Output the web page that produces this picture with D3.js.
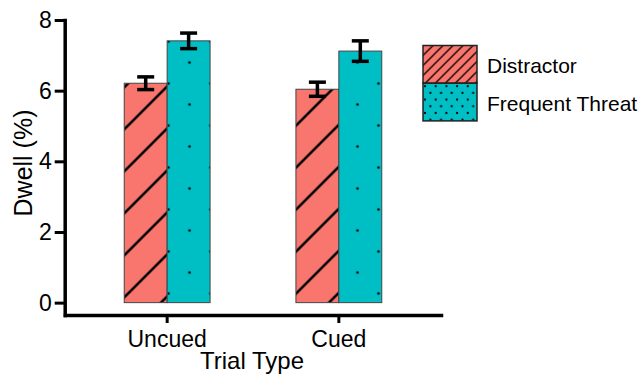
<!DOCTYPE html>
<html>
<head>
<meta charset="utf-8">
<script src="https://cdn.jsdelivr.net/npm/d3@7"></script>
<style>
  body { margin: 0; background: #fff; }
  text { font-family: "Liberation Sans", Arial, sans-serif; }
</style>
</head>
<body>
<div id="chart"></div>
<script>
// data
let trial_types = ["Uncued", "Cued"];
let series = ["Distractor", "Frequent Threat"];
let distractor_means = [6.21, 6.04];
let distractor_se = [0.18, 0.20];
let threat_means = [7.41, 7.12];
let threat_se = [0.22, 0.29];
let y_ticks = [0, 2, 4, 6, 8];

let width = 638, height = 378;

let svg = d3.select("#chart")
    .append("svg")
    .attr("width", width)
    .attr("height", height);

let defs = svg.append("defs");

// bar hatch (wide spacing)
let hatch = defs.append("pattern")
    .attr("id", "hatch_bar")
    .attr("patternUnits", "userSpaceOnUse")
    .attr("width", 42).attr("height", 42)
    .attr("patternTransform", "translate(1.6,0)");
hatch.append("rect").attr("width", 42).attr("height", 42).attr("fill", "#F8766D");
hatch.append("path")
    .attr("d", "M-2,44L44,-2M-2,2L2,-2M40,44L44,40")
    .attr("stroke", "#000").attr("stroke-width", 2.6);

// bar dots (sparse)
let dots = defs.append("pattern")
    .attr("id", "dots_bar")
    .attr("patternUnits", "userSpaceOnUse")
    .attr("width", 42).attr("height", 42)
    .attr("patternTransform", "translate(0.5,-0.5)");
dots.append("rect").attr("width", 42).attr("height", 42).attr("fill", "#00BFC4");
[[0,0],[42,0],[0,42],[42,42],[21,21]].forEach(function(p) {
    dots.append("circle").attr("cx", p[0]).attr("cy", p[1]).attr("r", 1.35).attr("fill", "#000");
});

// legend hatch (dense)
let hatch_l = defs.append("pattern")
    .attr("id", "hatch_leg")
    .attr("patternUnits", "userSpaceOnUse")
    .attr("width", 10).attr("height", 10);
hatch_l.append("rect").attr("width", 10).attr("height", 10).attr("fill", "#F8766D");
hatch_l.append("path")
    .attr("d", "M-1,11L11,-1M-1,1L1,-1M9,11L11,9")
    .attr("stroke", "#000").attr("stroke-width", 1.3);

// legend dots (dense)
let dots_l = defs.append("pattern")
    .attr("id", "dots_leg")
    .attr("patternUnits", "userSpaceOnUse")
    .attr("width", 10.7).attr("height", 13.4)
    .attr("patternTransform", "translate(2,3)");
dots_l.append("rect").attr("width", 10.7).attr("height", 13.4).attr("fill", "#00BFC4");
[[0,0],[10.7,0],[0,13.4],[10.7,13.4],[5.35,6.7]].forEach(function(p) {
    dots_l.append("circle").attr("cx", p[0]).attr("cy", p[1]).attr("r", 1.1).attr("fill", "#000");
});

// scales
let y = d3.scaleLinear()
    .domain([-0.35, 8])
    .range([315, 20]);

let x0 = d3.scaleBand()
    .domain(trial_types)
    .range([65, 441])
    .paddingInner(0.5)
    .paddingOuter(0.345);

let x1 = d3.scaleBand()
    .domain(series)
    .range([0, x0.bandwidth()])
    .padding(0);

let fills = {"Distractor": "url(#hatch_bar)", "Frequent Threat": "url(#dots_bar)"};

let bar_data = [];
trial_types.forEach(function(t, i) {
    bar_data.push({type: t, series: "Distractor", value: distractor_means[i], se: distractor_se[i]});
    bar_data.push({type: t, series: "Frequent Threat", value: threat_means[i], se: threat_se[i]});
});

// bars
svg.selectAll(".bar")
    .data(bar_data)
    .enter()
    .append("rect")
    .attr("class", "bar")
    .attr("x", function(d) { return x0(d.type) + x1(d.series); })
    .attr("y", function(d) { return y(d.value); })
    .attr("width", x1.bandwidth())
    .attr("height", function(d) { return y(0) - y(d.value); })
    .attr("fill", function(d) { return fills[d.series]; })
    .attr("stroke", "#444")
    .attr("stroke-width", 1);

// error bars
let err = svg.selectAll(".err")
    .data(bar_data)
    .enter()
    .append("g")
    .attr("class", "err")
    .attr("stroke", "#000")
    .attr("stroke-width", 3.5);
let cx = function(d) { return x0(d.type) + x1(d.series) + x1.bandwidth() / 2; };
let cap = 8.5;
err.append("line")
    .attr("x1", cx).attr("x2", cx)
    .attr("y1", function(d) { return y(d.value + d.se); })
    .attr("y2", function(d) { return y(d.value - d.se); });
err.append("line")
    .attr("x1", function(d) { return cx(d) - cap; })
    .attr("x2", function(d) { return cx(d) + cap; })
    .attr("y1", function(d) { return y(d.value + d.se); })
    .attr("y2", function(d) { return y(d.value + d.se); });
err.append("line")
    .attr("x1", function(d) { return cx(d) - cap; })
    .attr("x2", function(d) { return cx(d) + cap; })
    .attr("y1", function(d) { return y(d.value - d.se); })
    .attr("y2", function(d) { return y(d.value - d.se); });

// Y axis
let y_axis = svg.append("g")
    .attr("transform", "translate(64.7,0)")
    .call(d3.axisLeft(y).tickValues(y_ticks).tickSize(10).tickSizeOuter(0).tickPadding(3));
y_axis.select(".domain").attr("stroke-width", 3.5).attr("stroke-linecap", "square");
y_axis.selectAll(".tick line").attr("stroke-width", 3);
y_axis.selectAll(".tick text")
    .attr("font-size", "23px")
    .attr("fill", "#000")
    .style("font-family", "'Liberation Sans', Arial, sans-serif");

// X axis
let x_axis = svg.append("g")
    .attr("transform", "translate(0,315)")
    .call(d3.axisBottom(x0).tickSize(8).tickSizeOuter(0).tickPadding(8));
x_axis.select(".domain").attr("stroke-width", 3.5).attr("stroke-linecap", "square");
x_axis.selectAll(".tick line").attr("stroke-width", 3);
x_axis.selectAll(".tick text")
    .attr("font-size", "23px")
    .attr("fill", "#000")
    .style("font-family", "'Liberation Sans', Arial, sans-serif");

// axis titles
svg.append("text")
    .attr("x", 252)
    .attr("y", 369)
    .attr("text-anchor", "middle")
    .attr("font-size", "24px")
    .text("Trial Type");

svg.append("text")
    .attr("transform", "translate(32,163) rotate(-90)")
    .attr("text-anchor", "middle")
    .attr("font-size", "25px")
    .text("Dwell (%)");

// legend
let legend_fills = ["url(#hatch_leg)", "url(#dots_leg)"];
let legend = svg.selectAll(".legend")
    .data(series)
    .enter()
    .append("g")
    .attr("class", "legend")
    .attr("transform", function(d, i) { return "translate(423," + (45.5 + i * 37.7) + ")"; });
legend.append("rect")
    .attr("width", 54)
    .attr("height", 37.7)
    .attr("fill", function(d, i) { return legend_fills[i]; })
    .attr("stroke", "#222")
    .attr("stroke-width", 1.5);
legend.append("text")
    .attr("x", 64)
    .attr("y", 20)
    .attr("dy", "0.36em")
    .attr("font-size", "21px")
    .text(function(d) { return d; });
</script>
</body>
</html>
